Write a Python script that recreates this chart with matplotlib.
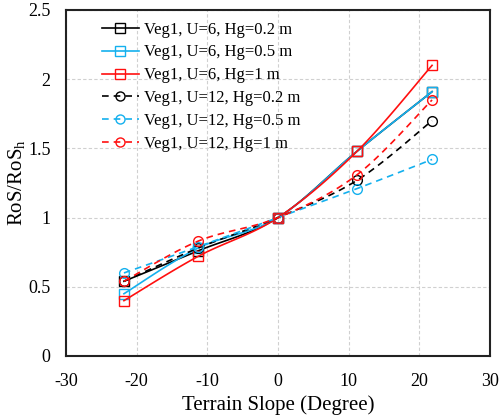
import numpy as np
import matplotlib
matplotlib.use("Agg")
import matplotlib.pyplot as plt

plt.rcParams['font.family'] = ['Liberation Serif', 'DejaVu Serif']
plt.rcParams['mathtext.fontset'] = 'custom'
plt.rcParams['mathtext.rm'] = 'Liberation Serif'
plt.rcParams['mathtext.it'] = 'Liberation Serif:italic'

slope = [-21.8, -11.3, 0.0, 11.2, 21.8]

u6_hg02 = [0.54, 0.76, 1.0, 1.48, 1.91]
u6_hg05 = [0.45, 0.78, 1.0, 1.48, 1.91]
u6_hg1 = [0.40, 0.72, 1.0, 1.48, 2.10]
u12_hg02 = [0.54, 0.78, 1.0, 1.27, 1.70]
u12_hg05 = [0.60, 0.79, 1.0, 1.21, 1.42]
u12_hg1 = [0.54, 0.83, 1.0, 1.31, 1.85]

labels = ["Veg1, U=6, Hg=0.2 m", "Veg1, U=6, Hg=0.5 m", "Veg1, U=6, Hg=1 m",
          "Veg1, U=12, Hg=0.2 m", "Veg1, U=12, Hg=0.5 m", "Veg1, U=12, Hg=1 m"]
series = [u6_hg02, u6_hg05, u6_hg1, u12_hg02, u12_hg05, u12_hg1]
colors = ['black', '#14B0EE', '#FF0F0F', 'black', '#14B0EE', '#FF0F0F']
markers = ['s', 's', 's', 'o', 'o', 'o']
styles = ['-', '-', '-', (0, (4, 3)), (0, (4, 3)), (0, (4, 3))]


def smooth(x, y, n=30):
    x = np.asarray(x, float)
    y = np.asarray(y, float)
    P = np.column_stack([x, y])
    Pe = np.vstack([P[0], P, P[-1]])
    out = []
    for i in range(len(P) - 1):
        p0, p1, p2, p3 = Pe[i], Pe[i + 1], Pe[i + 2], Pe[i + 3]
        c1 = p1 + (p2 - p0) / 6.0
        c2 = p2 - (p3 - p1) / 6.0
        t = np.linspace(0, 1, n)[:, None]
        seg = ((1 - t) ** 3) * p1 + 3 * ((1 - t) ** 2) * t * c1 + 3 * (1 - t) * t ** 2 * c2 + t ** 3 * p2
        out.append(seg if i == 0 else seg[1:])
    s = np.vstack(out)
    return s[:, 0], s[:, 1]


fig = plt.figure(figsize=(5.01, 4.18), dpi=100)
ax = fig.add_axes([66 / 501, 1 - 356 / 418, (490 - 66) / 501, (356 - 10) / 418])

for ys, c, m, ls, lab in zip(series, colors, markers, styles, labels):
    sx, sy = smooth(slope, ys)
    ax.plot(sx, sy, color=c, linestyle=ls, linewidth=1.2)
    ax.plot(slope, ys, linestyle='none', marker=m, markersize=7, markerfacecolor='none',
            markeredgecolor=c, markeredgewidth=1.0)
    ax.plot([], [], color=c, linestyle=ls, linewidth=1.2, marker=m, markersize=6.5,
            markerfacecolor='none', markeredgecolor=c, label=lab)

ax.set_xlim(-30, 30)
ax.set_ylim(0, 2.5)
ax.set_xticks([-30, -20, -10, 0, 10, 20, 30])
ax.set_yticks([0, 0.5, 1, 1.5, 2, 2.5])
ax.set_xticklabels(['-30', '-20', '-10', '0', '10', '20', '30'])
ax.set_yticklabels(['0', '0.5', '1', '1.5', '2', '2.5'])
ax.tick_params(axis='x', length=0, labelsize=13, pad=12)
ax.tick_params(axis='y', length=0, labelsize=13, pad=11)
ax.grid(True, color='#D0D0D0', linestyle=(0, (3, 2)), linewidth=0.8)
ax.set_axisbelow(True)
for sp in ax.spines.values():
    sp.set_linewidth(1.5)
    sp.set_color('#222222')

ax.set_xlabel('Terrain Slope (Degree)', fontsize=15, labelpad=4)
ax.set_ylabel(r'RoS/RoS$_\mathrm{h}$', fontsize=15)
ax.yaxis.set_label_coords((27 - 66) / 424, 0.5)

ax.legend(loc='upper left', frameon=False, fontsize=12, handlelength=2.2,
          bbox_to_anchor=(0.057, 1.0), labelspacing=0.41, handletextpad=0.35, borderaxespad=0.3)

fig.savefig('out.png', dpi=100)
